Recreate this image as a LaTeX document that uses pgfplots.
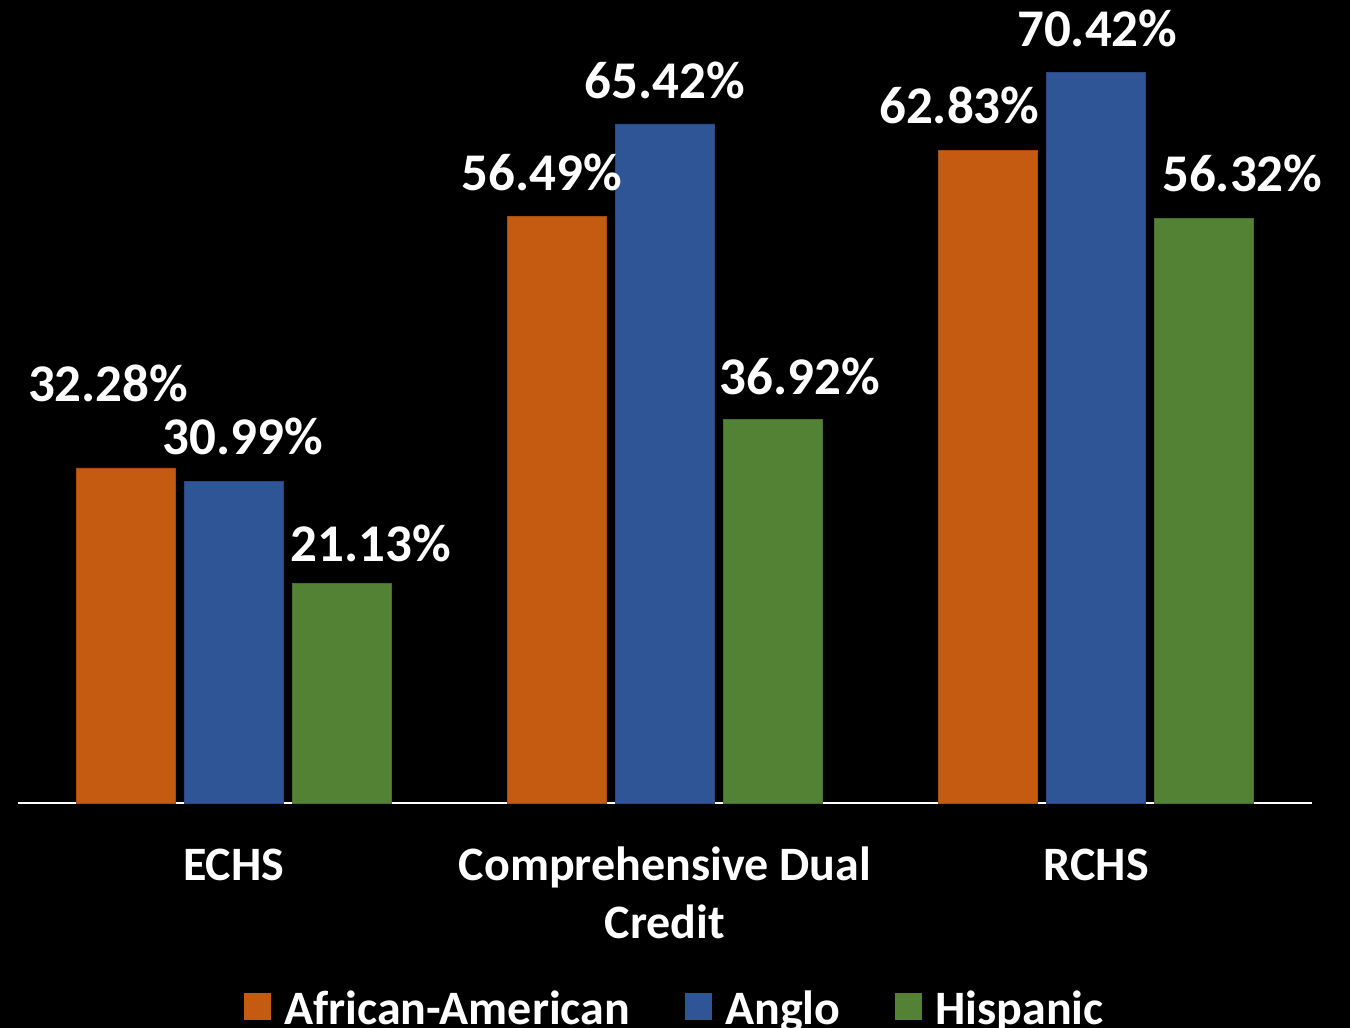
\documentclass[border=0pt]{standalone}
\usepackage{fontspec}
\setmainfont{Carlito}
\usepackage{pgfplots}
\usepackage{pgfplotstable}
\pgfplotsset{compat=1.18}

\definecolor{aa}{HTML}{C55A11}
\definecolor{anglo}{HTML}{2F5597}
\definecolor{hisp}{HTML}{548235}

% x = category, y = percent, dx/dy = label offset (pt)
\pgfplotstableread{
x y dx dy
0 32.28 -8.75 33
1 56.49 -7.5 13
2 62.83 -14.5 13.5
}\aatable
\pgfplotstableread{
x y dx dy
0 30.99 4.5 13.5
1 65.42 0 12.5
2 70.42 0.5 13
}\angtable
\pgfplotstableread{
x y dx dy
0 21.13 14.5 11.3
1 36.92 13.5 12.5
2 56.32 19 13.3
}\histable

\begin{document}
\begin{tikzpicture}
\fill[black, use as bounding box] (-9pt,-112.5pt) rectangle (666pt,401.5pt);
\begin{axis}[
    at={(0,0)}, anchor=south west,
    scale only axis,
    width=647pt, height=389.25pt,
    ybar=4.5pt, bar width=49.5pt,
    xmin=-0.5, xmax=2.5, ymin=0, ymax=75,
    hide y axis,
    axis x line=bottom,
    x axis line style={-, white, line width=1pt},
    xtick={0,1,2},
    xticklabels={ECHS,{\begin{tabular}[t]{@{}c@{}}Comprehensive Dual\\Credit\end{tabular}},RCHS},
    major tick length=0pt,
    xticklabel style={anchor=base, yshift=-38.5pt, text=white,
        inner sep=0pt, font=\fontsize{24}{29}\selectfont\bfseries},
    clip=false,
    /pgf/number format/assume math mode=true,
    visualization depends on={\thisrow{dx} \as \dx},
    visualization depends on={\thisrow{dy} \as \dy},
    nodes near coords={\pgfmathprintnumber[fixed,fixed zerofill,precision=2]{\pgfplotspointmeta}\%},
    nodes near coords style={anchor=base, inner sep=0pt, xshift=\dx, yshift=\dy,
        text=white, font=\fontsize{26.5}{30}\selectfont\bfseries},
    legend columns=3,
    legend image code/.code={\fill[#1,draw=none] (0pt,-5.25pt) rectangle (13.5pt,8.25pt);},
    legend style={at={(axis description cs:0.5,0)}, anchor=south,
        xshift=4.5pt, yshift=-112.5pt,
        draw=none, fill=none, text=white, inner sep=0pt,
        font=\fontsize{24}{29}\selectfont\bfseries,
        nodes={inner sep=0pt},
        /tikz/every odd column/.append style={column sep=6.5pt},
        /tikz/every even column/.append style={column sep=27.5pt}},
]
\addplot[fill=aa, draw=aa!85!black] table[x=x, y=y] {\aatable};
\addplot[fill=anglo, draw=anglo!85!black] table[x=x, y=y] {\angtable};
\addplot[fill=hisp, draw=hisp!85!black] table[x=x, y=y] {\histable};
\legend{African-American, Anglo, Hispanic}
\end{axis}
\end{tikzpicture}
\end{document}
